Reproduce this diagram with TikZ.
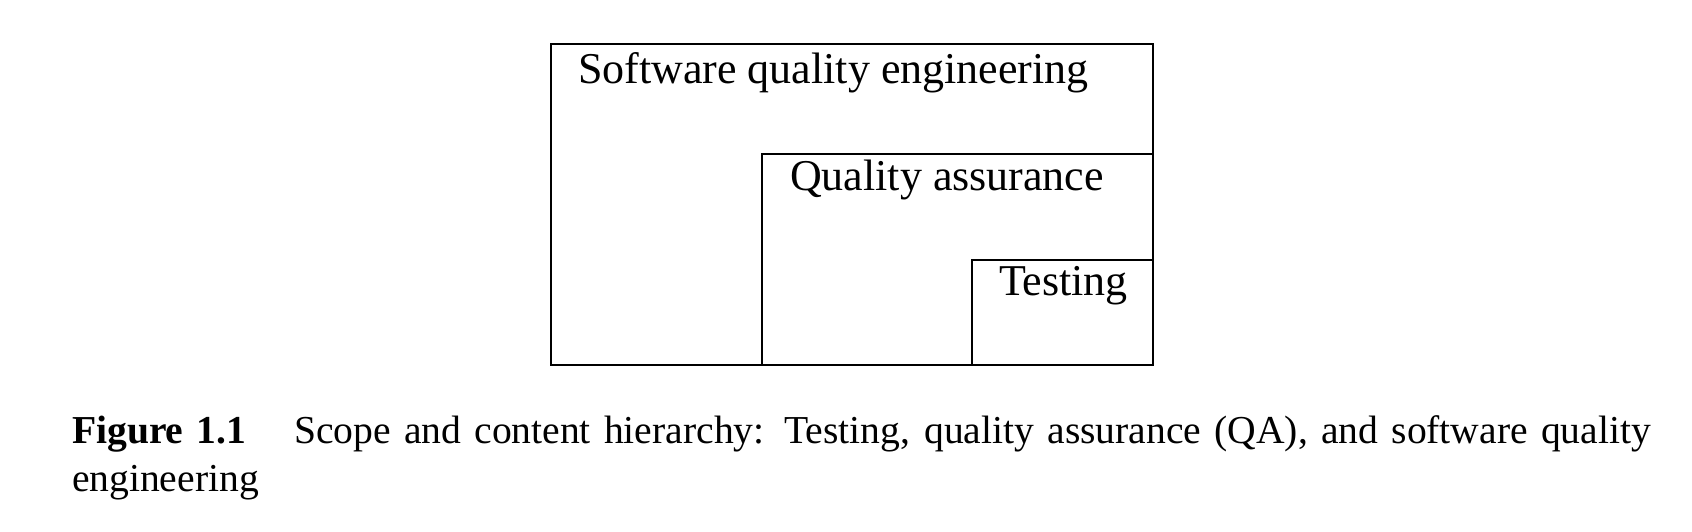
\documentclass[tikz,border=0pt]{standalone}
\usepackage{fontspec}
\setmainfont{Liberation Serif}
\begin{document}
\begin{tikzpicture}[x=1pt,y=-1pt,
  box/.style={draw=black,line width=2.4pt,minimum width=#1,anchor=north east,inner sep=0pt,outer sep=0pt},
  lbl/.style={anchor=base west,inner sep=0pt,outer sep=0pt,font=\fontsize{44}{50}\selectfont},
  captext/.style={anchor=base west,inner sep=0pt,outer sep=0pt,font=\fontsize{39.6}{47.5}\selectfont}]
\useasboundingbox (0,0) rectangle (1692,532);
\node[box=602pt,minimum height=321pt] (sqe) at (1153,44) {};
\node[box=391pt,minimum height=211pt] (qa) at (1153,154) {};
\node[box=181pt,minimum height=105pt] (tst) at (1153,260) {};
\node[lbl] (sqel) at (578,84) {Software quality engineering};
\node[lbl] (qal) at (790,190) {Quality assurance};
\node[lbl] (tstl) at (999,295) {Testing};
\node[captext] (cap1) at (72,443) {\hbox to 1579pt{\textbf{Figure 1.1}\hspace{48pt}Scope and content hierarchy: Testing, quality assurance (QA), and software quality}};
\node[captext] (cap2) at (72,491) {engineering};
\end{tikzpicture}
\end{document}
